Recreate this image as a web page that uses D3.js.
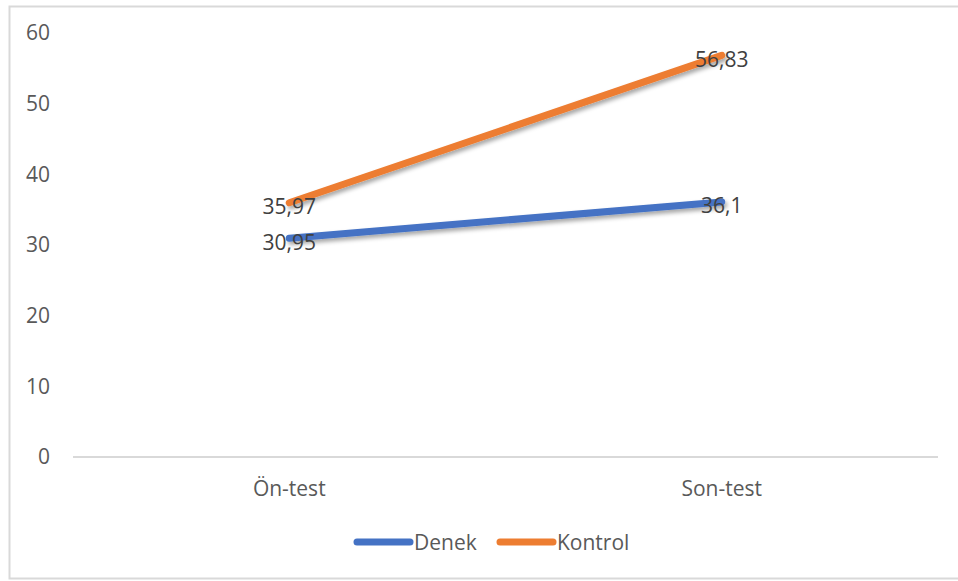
<!DOCTYPE html>
<html>
<head>
<meta charset="utf-8">
<script src="https://cdn.jsdelivr.net/npm/d3@7"></script>
<style>
  html, body { margin: 0; padding: 0; background: #fff; }
  svg { display: block; font-family: "Open Sans", sans-serif; }
</style>
</head>
<body>
<svg id="chart" width="958" height="581"></svg>
<script>
// Test phases on the x axis
const categories = ["Ön-test", "Son-test"];
// Group means per phase
const denekValues = [30.95, 36.1];
const kontrolValues = [35.97, 56.83];
const seriesNames = ["Denek", "Kontrol"];
const seriesColors = ["#4472C4", "#ED7D31"];
const yTicks = [0, 10, 20, 30, 40, 50, 60];

const series = [
  { name: seriesNames[0], color: seriesColors[0], values: denekValues },
  { name: seriesNames[1], color: seriesColors[1], values: kontrolValues }
];

const svg = d3.select("#chart");
const W = 958, H = 581;
const FS = 21;

// Soft drop shadow under the lines
const defs = svg.append("defs");
const f = defs.append("filter").attr("id", "shadow")
  .attr("x", "-10%").attr("y", "-50%").attr("width", "120%").attr("height", "200%");
f.append("feDropShadow").attr("dx", 2).attr("dy", 3).attr("stdDeviation", 2)
  .attr("flood-color", "#000").attr("flood-opacity", 0.35);

// Chart frame
svg.append("rect")
  .attr("x", 9.5).attr("y", 6.5).attr("width", W + 10).attr("height", 572)
  .attr("fill", "#fff").attr("stroke", "#d9d9d9").attr("stroke-width", 2);

const plot = { left: 73, right: 938, top: 33, bottom: 457 };

const x = d3.scaleBand().domain(categories).range([plot.left, plot.right]);
const y = d3.scaleLinear().domain([0, 60]).range([plot.bottom, plot.top]);

// Y axis labels (no axis line)
const yAxis = svg.append("g").attr("transform", `translate(${plot.left},0)`)
  .call(d3.axisLeft(y).tickValues(yTicks).tickSize(0).tickPadding(0).tickFormat(d3.format("d")));
yAxis.select(".domain").remove();
yAxis.selectAll("text")
  .attr("x", -23)
  .attr("fill", "#595959").attr("font-size", FS)
  .attr("font-family", "Open Sans, sans-serif");

// Category axis baseline and labels
const xAxis = svg.append("g").attr("transform", `translate(0,${plot.bottom})`)
  .call(d3.axisBottom(x).tickSize(0).tickPadding(24));
xAxis.select(".domain").attr("stroke", "#d9d9d9").attr("stroke-width", 2)
  .attr("d", `M${plot.left},0H${plot.right}`);
xAxis.selectAll("text")
  .attr("fill", "#595959").attr("font-size", FS)
  .attr("font-family", "Open Sans, sans-serif");

// Series lines
const line = d3.line()
  .x((d, i) => x(categories[i]) + x.bandwidth() / 2)
  .y(d => y(d));

svg.append("g").selectAll("path")
  .data(series)
  .join("path")
  .attr("d", d => line(d.values))
  .attr("fill", "none")
  .attr("stroke", d => d.color)
  .attr("stroke-width", 7)
  .attr("stroke-linecap", "round")
  .attr("filter", "url(#shadow)");

// Value labels centred on the points
const fmt = v => String(v).replace(".", ",");
series.forEach(s => {
  svg.append("g").selectAll("text")
    .data(s.values)
    .join("text")
    .attr("x", (d, i) => x(categories[i]) + x.bandwidth() / 2)
    .attr("y", d => y(d))
    .attr("dy", "0.55em")
    .attr("text-anchor", "middle")
    .attr("fill", "#404040")
    .attr("font-size", FS)
    .text(d => fmt(d));
});

// Legend
const legendItems = [
  { name: seriesNames[0], color: seriesColors[0], x: 357 },
  { name: seriesNames[1], color: seriesColors[1], x: 500 }
];
const lg = svg.append("g");
legendItems.forEach(it => {
  lg.append("line")
    .attr("x1", it.x).attr("x2", it.x + 53)
    .attr("y1", 542).attr("y2", 542)
    .attr("stroke", it.color).attr("stroke-width", 7).attr("stroke-linecap", "round");
  lg.append("text")
    .attr("x", it.x + 57).attr("y", 542).attr("dy", "0.37em")
    .attr("fill", "#595959").attr("font-size", FS)
    .text(it.name);
});
</script>
</body>
</html>
